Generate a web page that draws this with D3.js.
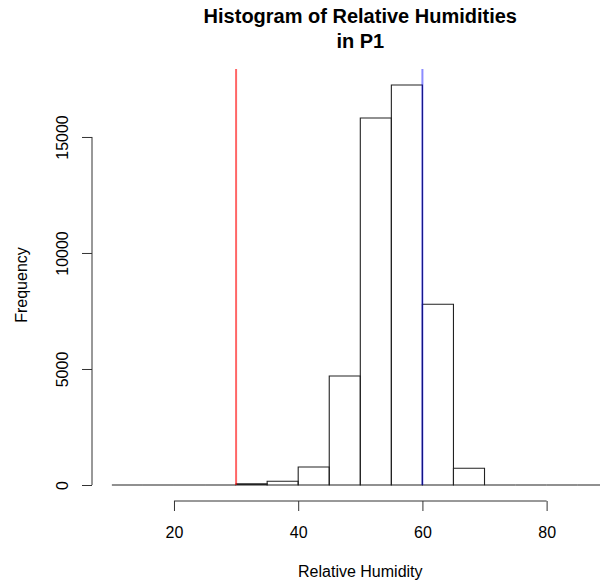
<!DOCTYPE html>
<html>
<head>
<meta charset="utf-8">
<script src="https://cdn.jsdelivr.net/npm/d3@7"></script>
<style>
  html, body { margin: 0; padding: 0; background: #fff; }
  svg { display: block; }
  text { font-family: "Liberation Sans", Arial, Helvetica, sans-serif; fill: #000; }
</style>
</head>
<body>
<svg id="chart" width="600" height="585"></svg>
<script>
// ---- data ----
const binStarts = [10, 15, 20, 25, 30, 35, 40, 45, 50, 55, 60, 65, 70, 75, 80, 85];
const binWidth = 5;
const counts = [0, 0, 0, 0, 50, 160, 775, 4700, 15820, 17240, 7790, 720, 0, 0, 0, 0];
const xTicks = [20, 40, 60, 80];
const yTicks = [0, 5000, 10000, 15000];
const refLines = [
  { value: 30, color: "rgba(255,0,0,0.6)" },
  { value: 60, color: "rgba(0,0,255,0.45)" }
];
const titleLines = ["Histogram of Relative Humidities", "in P1"];
const xLabel = "Relative Humidity";
const yLabel = "Frequency";

// ---- layout (R-like plot region) ----
const plot = { left: 92, right: 628.6, top: 69, bottom: 501 };
const xMin = binStarts[0], xMax = binStarts[binStarts.length - 1] + binWidth;
const xPad = (xMax - xMin) * 0.04;
const yMaxData = d3.max(counts);
const yPad = yMaxData * 0.04;

const x = d3.scaleLinear().domain([xMin - xPad, xMax + xPad]).range([plot.left, plot.right]);
const y = d3.scaleLinear().domain([-yPad, yMaxData + yPad]).range([plot.bottom, plot.top]);

const svg = d3.select("#chart");

// bars (as closed paths so zero-height bins still draw a baseline)
svg.append("g").selectAll("path")
  .data(binStarts.map((s, i) => ({ s, c: counts[i] })))
  .join("path")
  .attr("d", d => {
    const x0 = x(d.s), x1 = x(d.s + binWidth), y0 = y(0), y1 = y(d.c);
    return `M${x0},${y0}V${y1}H${x1}V${y0}Z`;
  })
  .attr("fill", "none")
  .attr("stroke", "#222")
  .attr("stroke-width", 1.1);

// reference lines
svg.append("g").selectAll("line")
  .data(refLines)
  .join("line")
  .attr("x1", d => x(d.value)).attr("x2", d => x(d.value))
  .attr("y1", y(0)).attr("y2", y(yMaxData + yPad))
  .attr("stroke", d => d.color)
  .attr("stroke-width", 2);

// x axis
const xAxis = svg.append("g")
  .attr("transform", `translate(0,${plot.bottom})`)
  .call(d3.axisBottom(x).tickValues(xTicks).tickSize(10).tickSizeOuter(0).tickPadding(16).tickFormat(d3.format("d")));
xAxis.select(".domain").remove();
xAxis.append("line")
  .attr("x1", x(xTicks[0])).attr("x2", x(xTicks[xTicks.length - 1]))
  .attr("stroke", "#333").attr("stroke-width", 1);
xAxis.selectAll(".tick line").attr("stroke", "#333");
xAxis.selectAll(".tick text").attr("font-size", "16px").attr("fill", "#000")
  .style("font-family", '"Liberation Sans", Arial, sans-serif');

// y axis
const yAxis = svg.append("g")
  .attr("transform", `translate(${plot.left},0)`)
  .call(d3.axisLeft(y).tickValues(yTicks).tickSize(10).tickSizeOuter(0).tickPadding(0).tickFormat(d3.format("d")));
yAxis.select(".domain").remove();
yAxis.append("line")
  .attr("y1", y(yTicks[0])).attr("y2", y(yTicks[yTicks.length - 1]))
  .attr("stroke", "#333").attr("stroke-width", 1);
yAxis.selectAll(".tick line").attr("stroke", "#333");
yAxis.selectAll(".tick text")
  .attr("x", null).attr("dy", null)
  .attr("text-anchor", "middle")
  .attr("transform", "translate(-24,0) rotate(-90)")
  .attr("font-size", "16px").attr("fill", "#000")
  .style("font-family", '"Liberation Sans", Arial, sans-serif');

// title
const cx = (plot.left + plot.right) / 2;
svg.append("g").selectAll("text")
  .data(titleLines)
  .join("text")
  .attr("x", cx)
  .attr("y", (d, i) => 23 + i * 25)
  .attr("text-anchor", "middle")
  .attr("font-weight", "bold")
  .attr("font-size", "20px")
  .text(d => d);

// axis labels
svg.append("text")
  .attr("x", cx).attr("y", 577)
  .attr("text-anchor", "middle")
  .attr("font-size", "16px")
  .text(xLabel);

svg.append("text")
  .attr("transform", `translate(27,${(plot.top + plot.bottom) / 2}) rotate(-90)`)
  .attr("text-anchor", "middle")
  .attr("font-size", "16px")
  .text(yLabel);
</script>
</body>
</html>
